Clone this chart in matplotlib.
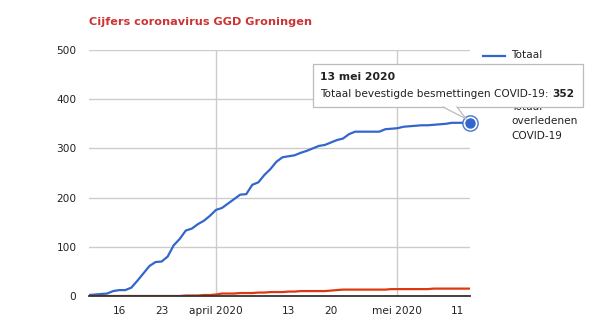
import numpy as np
import matplotlib
matplotlib.use("Agg")
import matplotlib.pyplot as plt
import matplotlib.dates as mdates
from matplotlib.patches import FancyBboxPatch, Polygon

plt.rcParams["font.family"] = ["DejaVu Sans"]

# Daily cumulative counts, GGD Groningen, 11 March - 13 May 2020
dates = np.arange("2020-03-11", "2020-05-14", dtype="datetime64[D]")
besmettingen = [
    2, 3, 4, 5, 10, 12, 12, 17, 31, 46,
    61, 69, 70, 80, 103, 116, 133, 137, 146, 153,
    163, 175, 179, 188, 197, 206, 207, 226, 231, 246,
    258, 273, 282, 284, 286, 291, 295, 300, 305, 307,
    312, 317, 320, 329, 334, 334, 334, 334, 334, 339,
    340, 341, 344, 345, 346, 347, 347, 348, 349, 350,
    352, 352, 352, 352,
]
overledenen = [
    0, 0, 0, 0, 0, 0, 0, 0, 0, 0,
    0, 0, 0, 0, 0, 0, 1, 1, 1, 2,
    2, 3, 5, 5, 5, 6, 6, 6, 7, 7,
    8, 8, 8, 9, 9, 10, 10, 10, 10, 10,
    11, 12, 13, 13, 13, 13, 13, 13, 13, 13,
    14, 14, 14, 14, 14, 14, 14, 15, 15, 15,
    15, 15, 15, 15,
]
tick_dates = ["2020-03-16", "2020-03-23", "2020-04-01", "2020-04-13",
              "2020-04-20", "2020-05-01", "2020-05-11"]
tick_labels = ["16", "23", "april 2020", "13", "20", "mei 2020", "11"]
month_starts = ["2020-04-01", "2020-05-01"]
y_ticks = [0, 100, 200, 300, 400, 500]

title = "Cijfers coronavirus GGD Groningen"
series_names = ["Totaal bevestigde besmettingen COVID-19",
                "Totaal overledenen COVID-19"]

BLUE = "#3366cc"
RED = "#dc3912"
GRID = "#cccccc"
TEXT = "#222222"

W, H = 615, 333
fig = plt.figure(figsize=(W / 100, H / 100), dpi=100)
fig.patch.set_facecolor("white")

ax = fig.add_axes([89 / W, 1 - 296 / H, (470 - 89) / W, (296 - 50) / H], zorder=1)
x = mdates.date2num(dates.astype("datetime64[ms]").astype(object))
ax.plot(x, besmettingen, color=BLUE, lw=1.6, solid_joinstyle="round", zorder=3)
ax.plot(x, overledenen, color=RED, lw=1.6, solid_joinstyle="round", zorder=3)

ax.set_xlim(x[0], x[-1])
ax.set_ylim(0, 500)
ax.set_yticks(y_ticks)
ax.set_yticklabels([str(v) for v in y_ticks])
tick_x = mdates.date2num([np.datetime64(d, "ms").astype(object) for d in tick_dates])
ax.set_xticks(tick_x)
ax.set_xticklabels(tick_labels)
ax.tick_params(axis="both", length=0, labelsize=7.6, colors=TEXT)
ax.tick_params(axis="y", pad=9)
ax.tick_params(axis="x", pad=7)

ax.yaxis.grid(True, color=GRID, lw=1)
for m in month_starts:
    ax.axvline(mdates.date2num(np.datetime64(m, "ms").astype(object)),
               color=GRID, lw=1, zorder=0)
ax.set_axisbelow(True)
for side in ["left", "right", "top"]:
    ax.spines[side].set_visible(False)
ax.spines["bottom"].set_color("#333333")
ax.spines["bottom"].set_linewidth(1.3)
ax.spines["bottom"].set_zorder(4)

# Focused last point
ax.plot(x[-1], besmettingen[-1], "o", ms=11, mfc="white", mec=BLUE, mew=1,
        alpha=0.9, zorder=5, clip_on=False)
ax.plot(x[-1], besmettingen[-1], "o", ms=6.5, mfc=BLUE, mec=BLUE, zorder=6,
        clip_on=False)

fig.text(89 / W, 1 - 22 / H, title, color="#cc3333", fontsize=8.1,
         fontweight="bold", va="center", ha="left")

# Overlay in pixel coordinates for legend and tooltip
ov = fig.add_axes([0, 0, 1, 1], zorder=5)
ov.set_xlim(0, W)
ov.set_ylim(H, 0)
ov.axis("off")
ov.patch.set_alpha(0)

# Legend
ov.plot([483, 505], [56, 56], color=BLUE, lw=1.6, zorder=1)
ov.text(511, 50.5, "Totaal\nbevestigde\nbesmettingen", fontsize=7.6, color=TEXT,
        va="top", ha="left", linespacing=1.55, zorder=1)
ov.plot([483, 505], [105, 105], color=RED, lw=1.6, zorder=1)
ov.text(511, 102, "Totaal\noverledenen\nCOVID-19", fontsize=7.6, color=TEXT,
        va="top", ha="left", linespacing=1.55, zorder=1)

# Tooltip
fig.canvas.draw()
px, py = ax.transData.transform((x[-1], besmettingen[-1]))
tip_x, tip_y = px, H - py
bx0, by0, bx1, by1 = 313, 64, 583, 107
shadow = FancyBboxPatch((bx0 + 1, by0 + 1), bx1 - bx0, by1 - by0,
                        boxstyle="square,pad=0", fc="#000000", ec="none",
                        alpha=0.08, zorder=9)
ov.add_patch(shadow)
box = FancyBboxPatch((bx0, by0), bx1 - bx0, by1 - by0, boxstyle="square,pad=0",
                     fc="white", ec="#bbbbbb", lw=0.9, zorder=10)
ov.add_patch(box)
base_l, base_r = 443, 457
end_x, end_y = tip_x - 4, tip_y - 4
ov.add_patch(Polygon([[base_l, by1 - 0.6], [base_r, by1 - 0.6], [end_x, end_y]],
                     closed=True, fc="white", ec="none", zorder=11))
ov.plot([base_l, end_x], [by1, end_y], color="#bbbbbb", lw=0.9, zorder=12)
ov.plot([base_r, end_x], [by1, end_y], color="#bbbbbb", lw=0.9, zorder=12)

ov.text(320, 77, "13 mei 2020", fontsize=7.8, fontweight="bold", color=TEXT,
        va="center", ha="left", zorder=13)
label = ov.text(320, 94, series_names[0] + ": ", fontsize=7.6, color=TEXT,
                va="center", ha="left", zorder=13)
fig.canvas.draw()
bb = label.get_window_extent()
ov.text(bb.x1, 94, f"{besmettingen[-1]}", fontsize=7.6, fontweight="bold",
        color=TEXT, va="center", ha="left", zorder=13)

fig.savefig("out.png", dpi=100, facecolor="white")
